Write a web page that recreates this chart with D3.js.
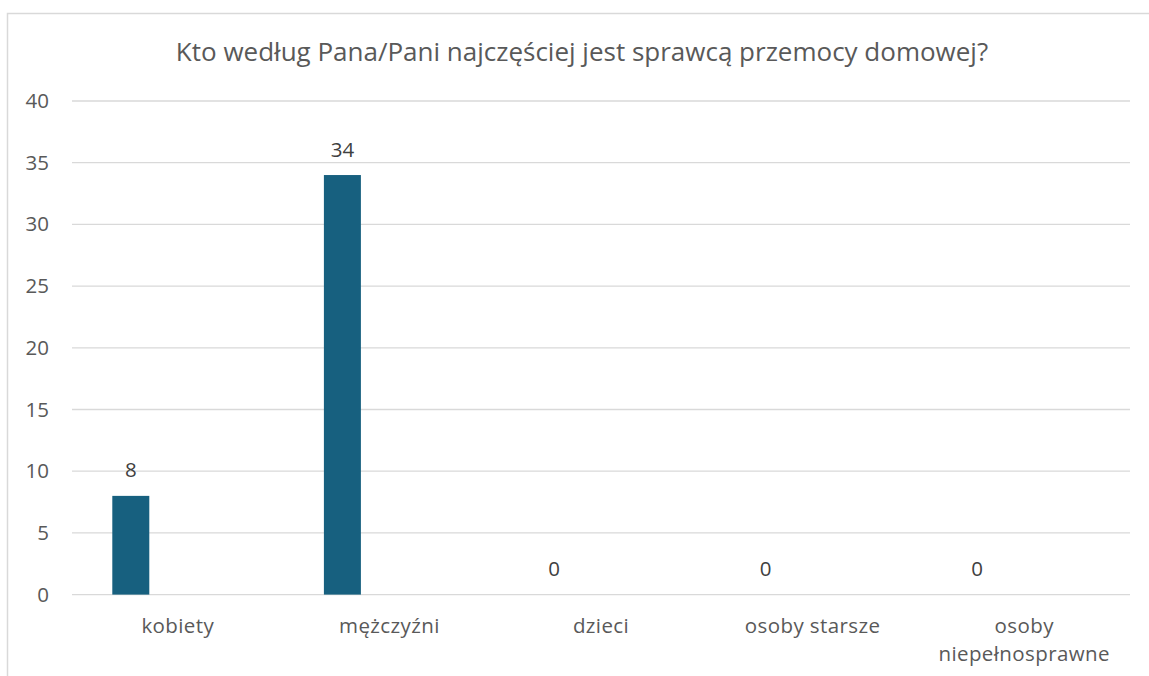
<!DOCTYPE html>
<html>
<head>
<meta charset="utf-8">
<script src="https://cdn.jsdelivr.net/npm/d3@7"></script>
<style>
  html, body { margin: 0; padding: 0; background: #fff; }
  svg { display: block; font-family: "Open Sans", sans-serif; }
</style>
</head>
<body>
<svg id="chart" width="1149" height="676"></svg>
<script>
const title = "Kto według Pana/Pani najczęściej jest sprawcą przemocy domowej?";
const categories = ["kobiety", "mężczyźni", "dzieci", "osoby starsze", "osoby niepełnosprawne"];
const categoryLines = [["kobiety"], ["mężczyźni"], ["dzieci"], ["osoby starsze"], ["osoby", "niepełnosprawne"]];
const values = [8, 34, 0, 0, 0];
const yTicks = [0, 5, 10, 15, 20, 25, 30, 35, 40];

const svg = d3.select("#chart");
const W = 1149, H = 676;
const plot = { left: 72, right: 1130, top: 101, bottom: 594.6 };
const labelSize = 20.5;

// chart border (only left and top visible)
svg.append("path")
  .attr("d", `M7.5,${H} L7.5,13.5 L${W},13.5`)
  .attr("fill", "none").attr("stroke", "#d9d9d9").attr("stroke-width", 1.5);

svg.append("text")
  .attr("x", 582).attr("y", 61)
  .attr("text-anchor", "middle")
  .attr("font-size", 26)
  .attr("fill", "#595959")
  .text(title);

const x = d3.scaleBand().domain(categories).range([plot.left, plot.right]).padding(0);
const y = d3.scaleLinear().domain([0, 40]).range([plot.bottom, plot.top]);

// gridlines
svg.append("g").selectAll("line").data(yTicks).join("line")
  .attr("x1", plot.left).attr("x2", plot.right)
  .attr("y1", d => y(d)).attr("y2", d => y(d))
  .attr("stroke", "#d9d9d9").attr("stroke-width", 1.3);

// y labels via axis
const yAxis = svg.append("g")
  .attr("transform", `translate(${49},0)`)
  .call(d3.axisLeft(y).tickValues(yTicks).tickSize(0).tickPadding(0));
yAxis.select(".domain").remove();
yAxis.selectAll("text")
  .attr("font-family", "Open Sans, sans-serif")
  .attr("font-size", labelSize).attr("fill", "#595959");

const barW = 37;
const offset = -47;
const cx = d => x(d) + x.bandwidth() / 2 + offset;

svg.append("g").selectAll("rect").data(values).join("rect")
  .attr("x", (d, i) => cx(categories[i]) - barW / 2)
  .attr("width", barW)
  .attr("y", d => y(d))
  .attr("height", d => y(0) - y(d))
  .attr("fill", "#17607f");

svg.append("g").selectAll("text").data(values).join("text")
  .attr("x", (d, i) => cx(categories[i]))
  .attr("y", d => y(d) - 18.5)
  .attr("text-anchor", "middle")
  .attr("font-size", labelSize)
  .attr("fill", "#404040")
  .text(d => d);

// category labels
const xl = svg.append("g");
categoryLines.forEach((lines, i) => {
  const t = xl.append("text")
    .attr("x", x(categories[i]) + x.bandwidth() / 2)
    .attr("y", 633)
    .attr("text-anchor", "middle")
    .attr("font-size", labelSize)
    .attr("letter-spacing", 0.4)
    .attr("fill", "#595959");
  lines.forEach((ln, j) => {
    t.append("tspan")
      .attr("x", x(categories[i]) + x.bandwidth() / 2)
      .attr("dy", j === 0 ? 0 : 28)
      .text(ln);
  });
});
</script>
</body>
</html>
